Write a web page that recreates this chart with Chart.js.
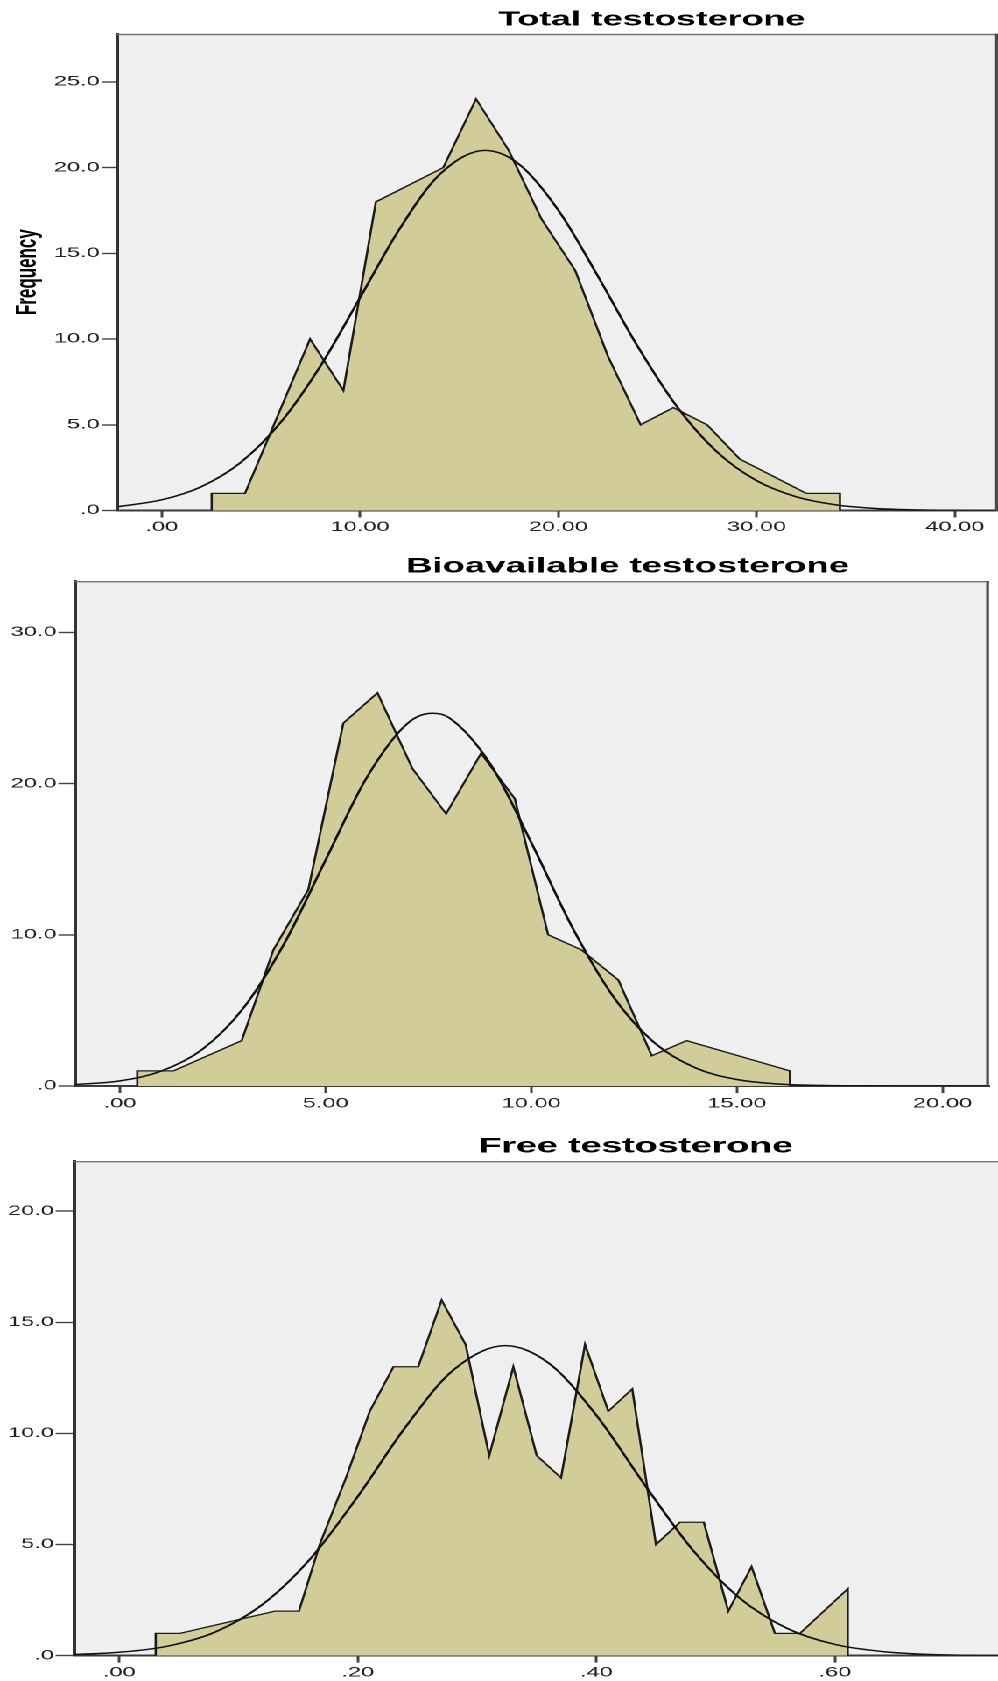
<!DOCTYPE html>
<html>
<head>
<meta charset="utf-8">
<script src="https://cdn.jsdelivr.net/npm/chart.js@4"></script>
<style>
html, body { margin: 0; padding: 0; background: #ffffff; width: 998px; height: 1681px; overflow: hidden; }
#stage { position: absolute; left: 0; top: 0; width: 570px; height: 1681px; transform: scaleX(1.750877); transform-origin: 0 0; }
.box { position: absolute; left: 0; width: 570px; }
canvas { display: block; }
</style>
</head>
<body>
<div id="stage">
  <div class="box" style="top:0px;height:545px"><canvas id="c1" width="570" height="545" style="width:570px;height:545px"></canvas></div>
  <div class="box" style="top:545px;height:580px"><canvas id="c2" width="570" height="580" style="width:570px;height:580px"></canvas></div>
  <div class="box" style="top:1125px;height:556px"><canvas id="c3" width="570" height="556" style="width:570px;height:556px"></canvas></div>
</div>
<script>
// ---------- text ----------
const totalTitle = 'Total testosterone';
const bioTitle = 'Bioavailable testosterone';
const freeTitle = 'Free testosterone';
const yAxisTitle = 'Frequency';

// ---------- Total testosterone ----------
const totalPolyX = [2.52, 2.52, 4.20, 7.48, 9.16, 10.80, 14.20, 15.85, 17.50, 19.15, 20.85, 22.50, 24.15, 25.80, 27.50, 29.15, 32.50, 34.20, 34.20];
const totalPolyY = [0, 1, 1, 10, 7, 18, 20, 24, 21, 17, 14, 9, 5, 6, 5, 3, 1, 1, 0];
const totalCurveX = [-2.24, 0, 2, 4, 6, 8, 10, 12, 14, 16.3, 18, 20, 22, 24, 26, 28, 30, 32, 34, 36, 38, 40, 42.17];
const totalCurveY = [0.22, 0.62, 1.39, 2.82, 5.14, 8.42, 12.41, 16.43, 19.58, 21.0, 20.21, 17.51, 13.65, 9.57, 6.03, 3.42, 1.74, 0.80, 0.33, 0.12, 0.04, 0.01, 0.0];
const totalXTicks = [0, 10, 20, 30, 40];
const totalXLabels = ['.00', '10.00', '20.00', '30.00', '40.00'];
const totalYTicks = [0, 5, 10, 15, 20, 25];
const totalYLabels = ['.0', '5.0', '10.0', '15.0', '20.0', '25.0'];

// ---------- Bioavailable testosterone ----------
const bioPolyX = [0.42, 0.42, 1.30, 2.96, 3.73, 4.58, 5.43, 6.26, 7.11, 7.93, 8.78, 9.60, 10.41, 11.22, 12.12, 12.93, 13.78, 16.29, 16.29];
const bioPolyY = [0, 1, 1, 3, 9, 13, 24, 26, 21, 18, 22, 19, 10, 9, 7, 2, 3, 1, 0];
const bioCurveX = [-1.09, 0, 1, 2, 3, 4, 5, 6, 7, 7.6, 8, 9, 10, 11, 12, 13, 14, 15, 16, 17, 18, 19, 21.13];
const bioCurveY = [0.09, 0.34, 0.98, 2.42, 5.15, 9.45, 14.95, 20.40, 24.0, 24.65, 24.36, 21.32, 16.10, 10.48, 5.89, 2.85, 1.19, 0.43, 0.13, 0.04, 0.01, 0.0, 0.0];
const bioXTicks = [0, 5, 10, 15, 20];
const bioXLabels = ['.00', '5.00', '10.00', '15.00', '20.00'];
const bioYTicks = [0, 10, 20, 30];
const bioYLabels = ['.0', '10.0', '20.0', '30.0'];

// ---------- Free testosterone ----------
const freePolyX = [0.0305, 0.0305, 0.0509, 0.1305, 0.1506, 0.168, 0.190, 0.210, 0.2298, 0.2506, 0.2702, 0.2903, 0.3101, 0.3303, 0.3499, 0.3703, 0.3904, 0.4099, 0.4300, 0.4499, 0.470, 0.490, 0.5105, 0.530, 0.5496, 0.5706, 0.6106, 0.6106];
const freePolyY = [0, 1, 1, 2, 2, 5, 8, 11, 13, 13, 16, 14, 9, 13, 9, 8, 14, 11, 12, 5, 6, 6, 2, 4, 1, 1, 3, 0];
const freeCurveX = [-0.038, 0, 0.04, 0.08, 0.12, 0.16, 0.20, 0.24, 0.28, 0.3235, 0.36, 0.40, 0.44, 0.48, 0.52, 0.56, 0.60, 0.64, 0.68, 0.7366];
const freeCurveY = [0.05, 0.15, 0.42, 1.05, 2.30, 4.35, 7.17, 10.29, 12.85, 13.95, 13.16, 10.81, 7.72, 4.80, 2.59, 1.22, 0.50, 0.18, 0.05, 0.0];
const freeXTicks = [0, 0.2, 0.4, 0.6];
const freeXLabels = ['.00', '.20', '.40', '.60'];
const freeYTicks = [0, 5, 10, 15, 20];
const freeYLabels = ['.0', '5.0', '10.0', '15.0', '20.0'];

// ---------- styling ----------
const FONT = "'Liberation Sans', Arial, sans-serif";
const FILL = '#D2CD98';
const PLOT_BG = '#EFEFEF';

const plotFrame = {
  id: 'plotFrame',
  beforeDraw(chart, args, o) {
    const { ctx, chartArea: a } = chart;
    ctx.save();
    ctx.fillStyle = o.bg;
    ctx.fillRect(a.left, a.top, a.right - a.left, a.bottom - a.top);
    ctx.restore();
  },
  afterDatasetsDraw(chart, args, o) {
    const { ctx, chartArea: a } = chart;
    ctx.save();
    ctx.strokeStyle = o.topColor;
    ctx.lineWidth = o.topWidth;
    ctx.beginPath();
    ctx.moveTo(a.left, a.top + o.topWidth / 2);
    ctx.lineTo(a.right, a.top + o.topWidth / 2);
    ctx.stroke();
    if (o.right) {
      ctx.strokeStyle = o.rightColor;
      ctx.lineWidth = o.rightWidth;
      ctx.beginPath();
      ctx.moveTo(a.right - o.rightWidth / 2, a.top);
      ctx.lineTo(a.right - o.rightWidth / 2, a.bottom);
      ctx.stroke();
    }
    ctx.restore();
  }
};

const titleShift = {
  id: 'titleShift',
  afterLayout(chart, args, o) {
    const tb = chart.titleBlock;
    if (tb) { tb.left = o.cx - 230; tb.right = o.cx + 230; }
  }
};

function pts(xs, ys) { return xs.map((x, i) => ({ x: x, y: ys[i] })); }

function build(id, c) {
  const yScale = {
    type: 'linear', position: 'left', min: 0, max: c.yMax, z: 1,
    afterBuildTicks: ax => { ax.ticks = c.yTicks.map(v => ({ value: v })); },
    afterFit: ax => { ax.width = c.plotLeft; },
    ticks: { autoSkip: false, padding: 1, color: '#222', font: { family: FONT, size: 13.5 },
             callback: (v, i) => c.yLabels[i] },
    grid: { display: true, drawOnChartArea: false, drawTicks: true, tickLength: c.yTickLen, tickWidth: 1.4, tickColor: '#444' },
    border: { display: true, color: '#333', width: 2 },
    title: c.yTitle ? { display: true, text: c.yTitle, color: '#000',
                        font: { family: FONT, size: 17, weight: 'bold', lineHeight: 1.2 },
                        padding: { top: 5.5, bottom: 0 } } : { display: false }
  };
  const xScale = {
    type: 'linear', position: 'bottom', min: c.xMin, max: c.xMax, z: 1,
    afterBuildTicks: ax => { ax.ticks = c.xTicks.map(v => ({ value: v })); },
    afterFit: ax => { ax.height = c.xAxisH; },
    ticks: { autoSkip: false, maxRotation: 0, minRotation: 0, padding: c.xPad, color: '#222',
             font: { family: FONT, size: 13.5, lineHeight: 1.2 }, callback: (v, i) => c.xLabels[i] },
    grid: { display: true, drawOnChartArea: false, drawTicks: true, tickLength: 7, tickWidth: 1.5, tickColor: '#444' },
    border: { display: true, color: '#3a3a3a', width: 2 }
  };
  return new Chart(document.getElementById(id), {
    type: 'line',
    data: {
      datasets: [
        { data: pts(c.polyX, c.polyY), fill: 'origin', backgroundColor: FILL, borderColor: '#1c1c1c',
          borderWidth: 1.3, pointRadius: 0, tension: 0, order: 2 },
        { data: pts(c.curveX, c.curveY), fill: false, borderColor: '#111111', borderWidth: 1.5,
          pointRadius: 0, cubicInterpolationMode: 'monotone', order: 1 }
      ]
    },
    options: {
      responsive: false, animation: false, devicePixelRatio: 2, events: [],
      layout: { padding: { left: 0, right: c.padRight, top: 0, bottom: 0 } },
      plugins: {
        legend: { display: false }, tooltip: { enabled: false },
        title: { display: true, text: c.title, color: '#000',
                 font: { family: FONT, size: c.titleSize, weight: 'bold', lineHeight: 1.2 },
                 padding: { top: c.titleTop, bottom: c.titleBottom } },
        titleShift: { cx: c.titleCx },
        plotFrame: { bg: PLOT_BG, topColor: '#767676', topWidth: 1.4, right: c.rightBorder, rightColor: '#4a4a4a', rightWidth: 1.6 }
      },
      scales: { x: xScale, y: yScale }
    },
    plugins: [plotFrame, titleShift]
  });
}

build('c1', {
  title: totalTitle, titleCx: 372.2, titleSize: 20.4, titleTop: 7.76, titleBottom: 1.56,
  polyX: totalPolyX, polyY: totalPolyY, curveX: totalCurveX, curveY: totalCurveY,
  xTicks: totalXTicks, xLabels: totalXLabels, yTicks: totalYTicks, yLabels: totalYLabels,
  xMin: -2.24, xMax: 42.17, yMax: 27.8,
  plotLeft: 67.0, padRight: 0, xAxisH: 34.5, xPad: 1.9, yTickLen: 9,
  yTitle: yAxisTitle, rightBorder: true
});

build('c2', {
  title: bioTitle, titleCx: 358.4, titleSize: 20.9, titleTop: 9.26, titleBottom: 1.66,
  polyX: bioPolyX, polyY: bioPolyY, curveX: bioCurveX, curveY: bioCurveY,
  xTicks: bioXTicks, xLabels: bioXLabels, yTicks: bioYTicks, yLabels: bioYLabels,
  xMin: -1.094, xMax: 21.13, yMax: 33.4,
  plotLeft: 42.84, padRight: 5.14, xAxisH: 39, xPad: 2.9, yTickLen: 9.5,
  yTitle: null, rightBorder: true
});

build('c3', {
  title: freeTitle, titleCx: 363.1, titleSize: 21.4, titleTop: 8.66, titleBottom: 1.66,
  polyX: freePolyX, polyY: freePolyY, curveX: freeCurveX, curveY: freeCurveY,
  xTicks: freeXTicks, xLabels: freeXLabels, yTicks: freeYTicks, yLabels: freeYLabels,
  xMin: -0.038, xMax: 0.7366, yMax: 22.26,
  plotLeft: 42.26, padRight: 0, xAxisH: 25.4, xPad: 2.1, yTickLen: 10.5,
  yTitle: null, rightBorder: false
});
</script>
</body>
</html>
